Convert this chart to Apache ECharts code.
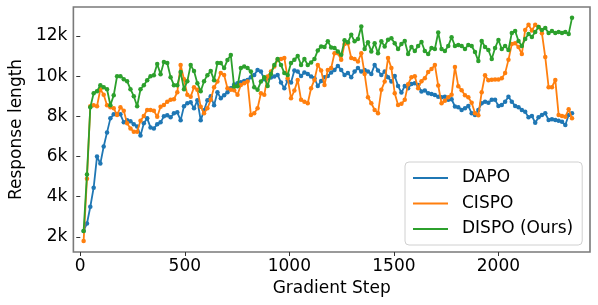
<!DOCTYPE html>
<html>
<head>
<meta charset="utf-8">
<script src="https://cdn.jsdelivr.net/npm/echarts@6/dist/echarts.min.js"></script>
<style>html,body{margin:0;padding:0;background:#fff;}#c{width:598px;height:305px;}</style>
</head>
<body>
<div id="c"></div>
<script>
const steps = [16,32,48,64,80,96,112,128,144,160,176,192,208,224,240,256,272,288,304,320,336,352,368,384,400,416,432,448,464,480,496,512,528,544,560,576,592,608,624,640,656,672,688,704,720,736,752,768,784,800,816,832,848,864,880,896,912,928,944,960,976,992,1008,1024,1040,1056,1072,1088,1104,1120,1136,1152,1168,1184,1200,1216,1232,1248,1264,1280,1296,1312,1328,1344,1360,1376,1392,1408,1424,1440,1456,1472,1488,1504,1520,1536,1552,1568,1584,1600,1616,1632,1648,1664,1680,1696,1712,1728,1744,1760,1776,1792,1808,1824,1840,1856,1872,1888,1904,1920,1936,1952,1968,1984,2000,2016,2032,2048,2064,2080,2096,2112,2128,2144,2160,2176,2192,2208,2224,2240,2256,2272,2288,2304,2320,2336,2352];

// Response length in thousands of tokens
const dapo = [2.3,2.67,3.5,4.45,6.0,5.65,6.5,7.2,7.9,8.1,
8.1,8.1,7.7,7.8,7.75,7.6,7.5,7.05,7.65,7.9,
7.45,7.4,7.6,7.7,8.0,8.05,7.95,8.15,8.2,7.8,
8.5,8.65,8.7,8.4,8.8,7.8,8.3,8.8,9.0,8.55,
9.2,8.9,9.05,9.2,9.4,9.58,9.64,9.7,9.76,9.81,
9.95,10.06,10.31,10.23,9.85,9.9,9.93,9.98,10.06,9.68,
9.4,9.78,9.68,10.28,10.23,10.01,10.18,10.11,9.98,9.9,
9.51,9.76,9.95,10.01,10.18,10.31,10.51,10.31,10.06,10.15,
9.95,10.23,10.4,10.23,10.31,10.23,10.11,10.56,10.28,10.06,
10.23,9.95,9.73,10.01,9.51,9.18,9.51,9.4,9.61,9.65,
9.56,9.23,9.28,9.15,9.11,9.06,8.98,8.95,8.98,8.82,
8.85,8.49,8.45,8.32,8.4,8.52,8.15,8.07,8.32,8.65,
8.73,8.68,8.82,8.82,8.52,8.57,8.73,8.98,8.73,8.52,
8.45,8.32,8.23,7.95,8.02,7.68,7.95,8.07,8.15,7.82,
7.85,7.82,7.78,7.73,7.57,8.07,8.15];

const cispo = [1.8,4.9,8.5,8.55,8.5,9.35,9.07,8.55,8.45,8.4,
8.07,8.45,8.28,7.65,7.4,7.23,7.23,7.78,8.02,8.32,
8.32,8.28,7.98,8.48,8.57,8.73,8.82,8.85,9.2,10.56,
9.85,9.07,8.98,9.45,9.32,8.48,8.15,8.4,8.82,9.45,
9.73,10.15,10.06,9.4,9.32,9.3,9.07,9.56,9.65,9.73,
8.07,8.15,8.4,9.15,9.07,9.98,10.23,10.48,10.81,10.85,
10.9,9.9,8.9,9.28,9.81,8.82,8.73,8.65,9.4,9.81,
10.56,10.28,9.56,10.31,10.4,11.14,11.14,10.81,11.6,11.64,
10.9,10.85,10.73,11.14,10.11,8.95,8.65,8.32,8.15,9.32,
9.73,10.9,10.4,9.15,8.57,8.62,8.82,9.6,9.95,10.0,
9.4,9.75,9.9,10.2,10.35,10.56,9.53,8.65,8.78,8.95,
9.07,10.45,9.5,9.3,9.05,8.95,8.68,8.15,8.05,9.2,
10.05,9.8,9.82,9.83,9.83,9.9,10.15,10.81,11.6,11.64,
11.45,11.1,12.3,12.56,12.27,12.56,12.45,12.14,10.95,9.45,
9.45,9.81,8.07,8.02,7.98,8.35,7.9];

const dispo = [2.3,5.1,8.45,9.15,9.25,9.55,9.45,9.35,8.55,9.05,
10.0,10.0,9.85,9.75,9.35,9.0,8.5,9.35,9.55,9.8,
10.0,10.05,10.6,10.1,10.7,10.65,9.95,9.55,9.55,10.2,
9.35,9.75,10.55,10.25,9.65,9.25,9.75,10.05,10.25,9.8,
10.65,10.65,10.4,10.8,11.05,9.48,9.5,10.4,10.48,10.4,
10.23,9.45,9.32,9.73,9.95,9.51,10.11,10.56,10.85,10.56,
10.15,10.06,10.65,10.81,11.0,10.56,10.85,10.56,10.68,10.85,
11.28,11.48,11.45,11.73,11.43,11.4,11.23,11.06,11.78,11.68,
12.06,11.73,11.85,12.47,11.35,11.68,11.23,11.64,11.14,11.73,
11.48,11.81,11.89,11.64,11.35,11.6,11.75,11.1,11.45,11.25,
11.5,11.7,11.25,11.1,11.4,11.35,12.17,11.35,11.25,11.5,
11.94,11.5,11.55,11.5,11.35,11.55,11.5,11.2,10.75,11.75,
11.45,11.3,10.85,11.4,11.8,11.35,11.5,11.3,12.15,12.25,
11.75,11.5,11.85,12.1,11.95,12.2,12.45,12.3,12.4,12.15,
12.25,12.15,12.2,12.15,12.2,12.1,12.9];

const seriesNames = ['DAPO', 'CISPO', 'DISPO (Ours)'];
const seriesValues = [dapo, cispo, dispo];
const seriesColors = ['#1f77b4', '#ff7f0e', '#2ca02c'];
const xTicks = [0, 500, 1000, 1500, 2000];
const yTicks = [2, 4, 6, 8, 10, 12];

const FONT = 'DejaVu Sans';
const chart = echarts.init(document.getElementById('c'), null, {renderer: 'canvas'});

chart.setOption({
  animation: false,
  backgroundColor: '#fff',
  grid: {left: 68, right: 8, top: 7, bottom: 53, show: true, borderColor: '#7a7a7a', borderWidth: 1.6, backgroundColor: 'transparent'},
  legend: {
    orient: 'vertical', left: 405, top: 162,
    data: seriesNames,
    icon: 'rect', itemWidth: 35, itemHeight: 2, itemGap: 7.5,
    padding: [7, 9, 7, 8],
    borderColor: '#d0d0d0', borderWidth: 1, borderRadius: 4, backgroundColor: 'rgba(255,255,255,0.85)',
    textStyle: {fontFamily: FONT, fontSize: 17, color: '#000', lineHeight: 18, padding: [0, 0, 0, 9]}
  },
  xAxis: {
    type: 'value', min: -33, max: 2438,
    name: 'Gradient Step', nameLocation: 'middle', nameGap: 26,
    nameTextStyle: {fontFamily: FONT, fontSize: 17, color: '#000'},
    axisLine: {show: false},
    axisTick: {show: true, length: 4, customValues: xTicks, lineStyle: {color: '#333', width: 1}},
    axisLabel: {customValues: xTicks, fontFamily: FONT, fontSize: 17, color: '#000', margin: 6,
      formatter: v => String(v)},
    splitLine: {show: false}
  },
  yAxis: {
    type: 'value', min: 1.25, max: 13.44,
    name: 'Response length', nameLocation: 'middle', nameGap: 43, nameRotate: 90,
    nameTextStyle: {fontFamily: FONT, fontSize: 17, color: '#000'},
    axisLine: {show: false},
    axisTick: {show: true, length: 4, customValues: yTicks, lineStyle: {color: '#333', width: 1}},
    axisLabel: {customValues: yTicks, fontFamily: FONT, fontSize: 17, color: '#000', margin: 6,
      formatter: v => v + 'k'},
    splitLine: {show: false}
  },
  series: seriesNames.map((name, i) => ({
    name: name, type: 'line',
    data: steps.map((s, j) => [s, seriesValues[i][j]]),
    symbol: 'circle', symbolSize: 4.5, showSymbol: true,
    lineStyle: {width: 1.8, color: seriesColors[i]},
    itemStyle: {color: seriesColors[i]},
    color: seriesColors[i],
    z: 2 + i
  }))
});
</script>
</body>
</html>
